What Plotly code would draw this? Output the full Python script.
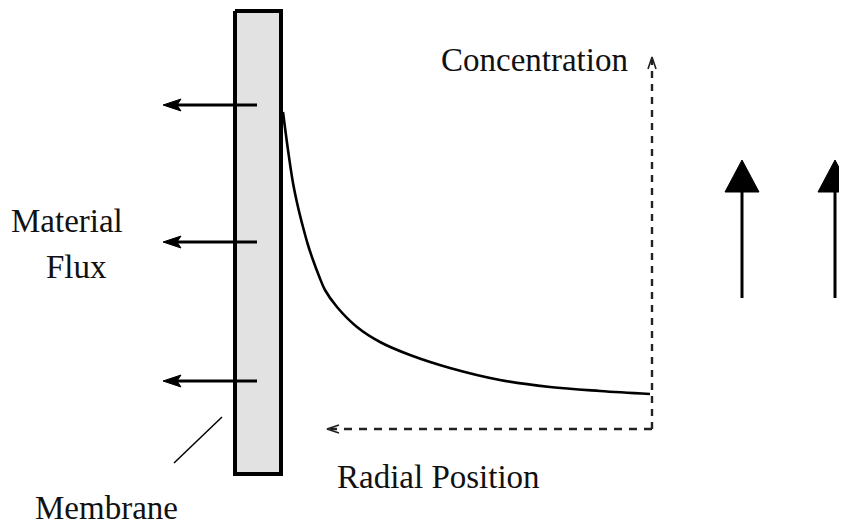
import plotly.graph_objects as go

# ---- data (picture coordinates, px) ----
curve_x = [283, 288, 293, 298, 303, 308, 313, 319, 325, 337, 357, 380, 410, 450, 500, 550, 600, 650]
curve_y = [112, 150, 183, 207, 227, 245, 260, 276, 290, 307, 327, 342, 355, 368, 380, 387, 391, 394]

membrane_x = [235, 281, 281, 235, 235]
membrane_y = [11, 11, 474, 474, 11]

flux_y = [105, 242, 381]
flux_tail_x = 257
flux_tip_x = 163

big_arrow_x = [742, 835]
big_arrow_bottom = 298
big_arrow_tip = 160

labels = ["Concentration", "Material", "Flux", "Radial Position", "Membrane"]
label_x = [534, 67, 76, 438, 106]
label_y = [60, 221, 267, 477, 508]

# page body has an 8px margin; offset the axis ranges so picture pixels line up
OFF = 8

fig = go.Figure()

# membrane
fig.add_trace(go.Scatter(x=membrane_x, y=membrane_y, mode="lines", fill="toself",
                         fillcolor="#e2e2e2", line=dict(color="black", width=4),
                         hoverinfo="skip"))

# flux arrows
for y in flux_y:
    fig.add_trace(go.Scatter(x=[flux_tail_x, flux_tip_x + 10], y=[y, y], mode="lines",
                             line=dict(color="black", width=2.8), hoverinfo="skip"))
    fig.add_trace(go.Scatter(x=[flux_tip_x, flux_tip_x + 18, flux_tip_x + 14, flux_tip_x + 18, flux_tip_x],
                             y=[y, y - 6, y, y + 6, y], mode="lines", fill="toself",
                             fillcolor="black", line=dict(color="black", width=1), hoverinfo="skip"))

# membrane pointer
fig.add_trace(go.Scatter(x=[174, 222], y=[463, 417], mode="lines",
                         line=dict(color="black", width=1.5), hoverinfo="skip"))

# concentration curve
fig.add_trace(go.Scatter(x=curve_x, y=curve_y, mode="lines",
                         line=dict(color="black", width=2.6, shape="spline", smoothing=1.0),
                         hoverinfo="skip"))

# dashed axes
fig.add_trace(go.Scatter(x=[652, 652], y=[429, 60], mode="lines",
                         line=dict(color="#222222", width=2.4, dash="7px,6px"), hoverinfo="skip"))
fig.add_trace(go.Scatter(x=[648, 652, 656], y=[69, 57, 69], mode="lines",
                         line=dict(color="#222222", width=1.6), hoverinfo="skip"))
fig.add_trace(go.Scatter(x=[652, 330], y=[429, 429], mode="lines",
                         line=dict(color="#222222", width=2.4, dash="8px,7px"), hoverinfo="skip"))
fig.add_trace(go.Scatter(x=[339, 327, 339], y=[425, 429, 433], mode="lines",
                         line=dict(color="#222222", width=1.8), hoverinfo="skip"))

# big arrows
for x in big_arrow_x:
    fig.add_trace(go.Scatter(x=[x, x], y=[big_arrow_bottom, big_arrow_tip + 25], mode="lines",
                             line=dict(color="black", width=3), hoverinfo="skip"))
    fig.add_trace(go.Scatter(x=[x - 17, x + 17, x, x - 17], y=[192, 192, big_arrow_tip, 192],
                             mode="lines", fill="toself", fillcolor="black",
                             line=dict(color="black", width=1), hoverinfo="skip"))

for t, x, y in zip(labels, label_x, label_y):
    fig.add_annotation(x=x, y=y, text=t, showarrow=False, xanchor="center", yanchor="middle",
                       font=dict(family="Liberation Serif", size=33, color="#111111"))

fig.update_layout(width=847, height=525, margin=dict(l=0, r=0, t=0, b=0),
                  plot_bgcolor="white", paper_bgcolor="white", showlegend=False,
                  xaxis=dict(range=[OFF, 847 + OFF], visible=False, fixedrange=True),
                  yaxis=dict(range=[525 + OFF, OFF], visible=False, fixedrange=True))

fig.write_html("out.html")
